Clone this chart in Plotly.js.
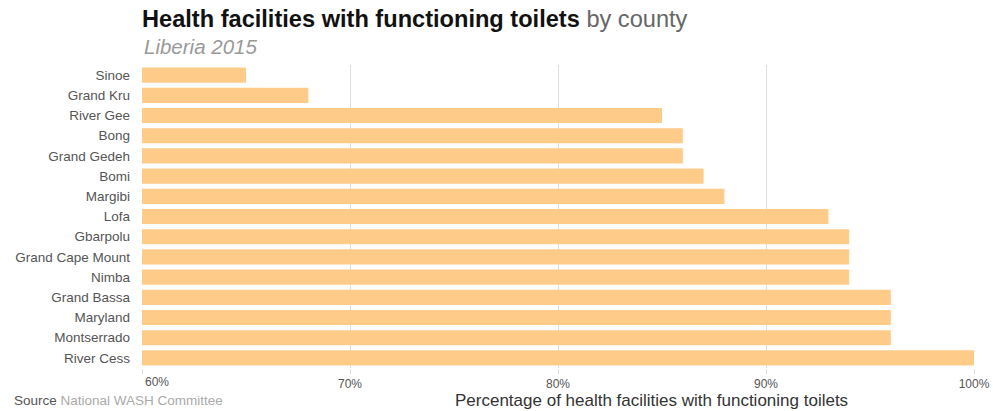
<!DOCTYPE html>
<html>
<head>
<meta charset="utf-8">
<script src="https://cdn.plot.ly/plotly-3.0.1.min.js"></script>
<style>html,body{margin:0;padding:0;background:#fff;}#chart{width:993px;height:411px;}</style>
</head>
<body>
<div id="chart"></div>
<script>
const counties = ["Sinoe","Grand Kru","River Gee","Bong","Grand Gedeh","Bomi","Margibi","Lofa","Gbarpolu","Grand Cape Mount","Nimba","Grand Bassa","Maryland","Montserrado","River Cess"];
const percentages = [65, 68, 85, 86, 86, 87, 88, 93, 94, 94, 94, 96, 96, 96, 100];
const tickValues = [60, 70, 80, 90, 100];
const tickLabels = ["60%", "70%", "80%", "90%", "100%"];

const font = "Liberation Sans, Arial, Helvetica, sans-serif";

const trace = {
  type: 'bar',
  orientation: 'h',
  y: counties,
  x: percentages,
  base: 0,
  marker: {color: '#FECB88'},
  hoverinfo: 'x+y'
};

// first tick label is left-aligned on its tick in the reference
const shownTickText = tickLabels.map((t, i) => i === 0 ? "" : t);

const layout = {
  width: 993, height: 411,
  margin: {l: 142, r: 19, t: 65, b: 43},
  paper_bgcolor: '#fff', plot_bgcolor: '#fff',
  font: {family: font, color: '#555', size: 12},
  bargap: 0.25,
  showlegend: false,
  title: {
    text: "<b>Health facilities with functioning toilets</b> <span style='color:#666'>by county</span>",
    font: {family: font, size: 23.6, color: '#111'},
    x: 142/993, xanchor: 'left', xref: 'container',
    y: 1 - 19/411, yanchor: 'middle', yref: 'container'
  },
  xaxis: {
    range: [60, 100],
    tickvals: tickValues, ticktext: shownTickText,
    showgrid: true, gridcolor: '#dedede', gridwidth: 1,
    zeroline: false, showline: false,
    ticks: 'outside', ticklen: 5, tickcolor: '#dedede',
    tickfont: {family: font, size: 12, color: '#555'},
    fixedrange: true
  },
  yaxis: {
    type: 'category',
    autorange: 'reversed',
    showgrid: false, zeroline: false, showline: false,
    ticks: '', ticklabelstandoff: 11,
    tickfont: {family: font, size: 13.5, color: '#555'},
    fixedrange: true
  },
  annotations: [
    {
      text: tickLabels[0], showarrow: false,
      xref: 'x', yref: 'paper', x: tickValues[0], y: (368-382)/303,
      xanchor: 'left', yanchor: 'middle', xshift: 1,
      font: {family: font, size: 12, color: '#555'}
    },
    {
      text: "Liberia 2015", showarrow: false,
      xref: 'paper', yref: 'paper', x: 0, y: (368-46)/303,
      xanchor: 'left', yanchor: 'middle',
      font: {family: font, size: 20.5, color: '#999', style: 'italic'}
    },
    {
      text: "Percentage of health facilities with functioning toilets", showarrow: false,
      xref: 'paper', yref: 'paper', x: (651-142)/832, y: (368-400)/303,
      xanchor: 'center', yanchor: 'middle',
      font: {family: font, size: 17, color: '#333'}
    },
    {
      text: "Source <span style='color:#aaa'>National WASH Committee</span>", showarrow: false,
      xref: 'paper', yref: 'paper', x: (12-142)/832, y: (368-400)/303,
      xanchor: 'left', yanchor: 'middle',
      font: {family: font, size: 13.5, color: '#555'}
    }
  ]
};

Plotly.newPlot('chart', [trace], layout, {displayModeBar: false, staticPlot: true});
</script>
</body>
</html>
